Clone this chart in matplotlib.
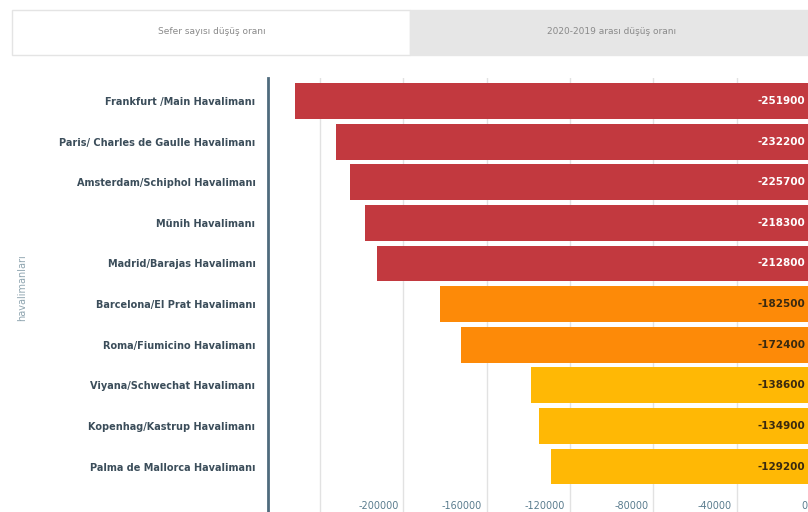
import matplotlib.pyplot as plt
import matplotlib.transforms as mtransforms
from matplotlib.patches import Rectangle

# ----------------------------------
# Data
# ----------------------------------
airports = [
    'Frankfurt /Main Havalimanı',
    'Paris/ Charles de Gaulle Havalimanı',
    'Amsterdam/Schiphol Havalimanı',
    'Münih Havalimanı',
    'Madrid/Barajas Havalimanı',
    'Barcelona/El Prat Havalimanı',
    'Roma/Fiumicino Havalimanı',
    'Viyana/Schwechat Havalimanı',
    'Kopenhag/Kastrup Havalimanı',
    'Palma de Mallorca Havalimanı',
]
flight_drop = [-251900, -232200, -225700, -218300, -212800,
               -182500, -172400, -138600, -134900, -129200]
bar_colors = ['#c2393f'] * 5 + ['#fd8a08'] * 2 + ['#ffb805'] * 3
label_colors = ['white'] * 5 + ['#3a2a10'] * 5
x_ticks = [-240000, -200000, -160000, -120000, -80000, -40000, 0]
x_tick_labels = ['', '-200000', '-160000', '-120000', '-80000', '-40000', '0']
tab_titles = ['Sefer sayısı düşüş oranı', '2020-2019 arası düşüş oranı']

W, H = 808, 512
fig = plt.figure(figsize=(W / 100, H / 100), dpi=100)
fig.patch.set_facecolor('white')

# ----------------------------------
# Tabs at the top
# ----------------------------------
fig.patches.append(Rectangle((12 / W, 1 - 55 / H), 398 / W, 45 / H, transform=fig.transFigure,
                             facecolor='white', edgecolor='#e4e4e4', lw=1))
fig.patches.append(Rectangle((410 / W, 1 - 55 / H), 398 / W, 45 / H, transform=fig.transFigure,
                             facecolor='#e6e6e6', edgecolor='#e6e6e6', lw=1))
fig.text(212 / W, 1 - 32 / H, tab_titles[0], ha='center', va='center', fontsize=6.5, color='#8a8a8a')
fig.text(612 / W, 1 - 32 / H, tab_titles[1], ha='center', va='center', fontsize=6.5, color='#8a8a8a')

# ----------------------------------
# Bar chart (zero sits just past the right edge, like the reference)
# ----------------------------------
ax = fig.add_axes([268 / W, 0, (820 - 268) / W, (512 - 78) / H])
pos = list(range(len(airports)))
ax.barh(pos, flight_drop, height=0.88, color=bar_colors, zorder=2)

# value labels, pulled in so they stay inside the picture
val_shift = ax.transData + mtransforms.ScaledTranslation(-15 / 100, 0, fig.dpi_scale_trans)
for p, v, c in zip(pos, flight_drop, label_colors):
    ax.text(0, p, str(v), ha='right', va='center', fontsize=7.5,
            fontweight='bold', color=c, zorder=3, transform=val_shift)

ax.set_xlim(-265000, 0)
ax.set_ylim(10.12, -0.567)
ax.set_yticks(pos)
ax.set_yticklabels(airports, fontsize=7, fontweight='bold', color='#3b4d5a')
ax.set_xticks(x_ticks)
ax.set_xticklabels(x_tick_labels, fontsize=7, color='#5a7c8e', ha='right')
ax.tick_params(axis='y', length=0, pad=9)
ax.tick_params(axis='x', length=0, pad=-8)
xlabels = ax.get_xticklabels()
for lbl in xlabels[:-1]:
    lbl.set_transform(lbl.get_transform() + mtransforms.ScaledTranslation(-5 / 100, 0, fig.dpi_scale_trans))
xlabels[-1].set_transform(xlabels[-1].get_transform() + mtransforms.ScaledTranslation(-13 / 100, 0, fig.dpi_scale_trans))

ax.grid(axis='x', color='#e2e2e2', lw=1, zorder=0)
for side in ['top', 'right', 'bottom']:
    ax.spines[side].set_visible(False)
ax.spines['left'].set_color('#4f6b7d')
ax.spines['left'].set_linewidth(2)

fig.text(22 / W, 1 - 288 / H, 'havalimanları', rotation=90, ha='center', va='center',
         fontsize=7, color='#8fa5b0')

fig.savefig('out.png', dpi=100)
